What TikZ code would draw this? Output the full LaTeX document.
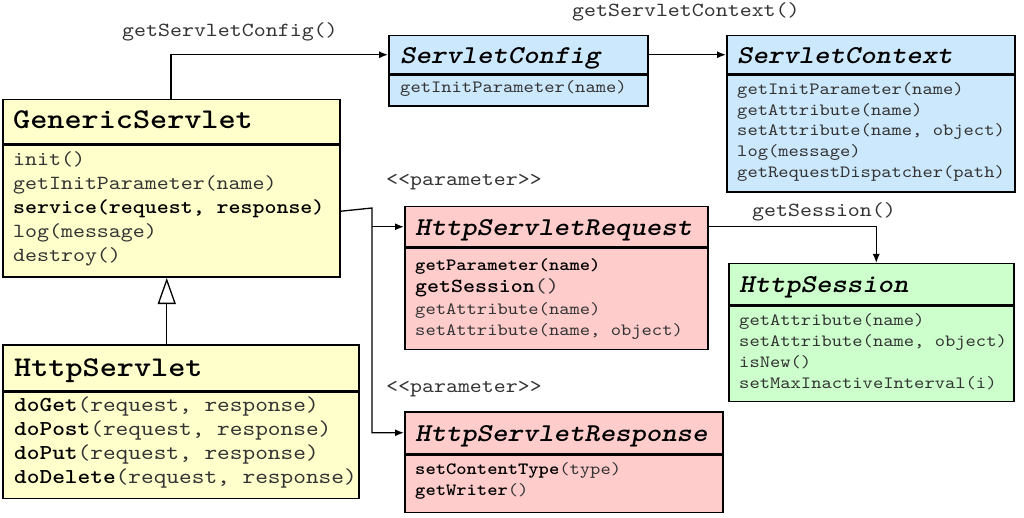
\documentclass[tikz,border=0pt]{standalone}
\usepackage{fontspec}
\setmainfont[FakeStretch=1.14, Extension=.otf,
  UprightFont=lmmono10-regular, BoldFont=lmmonolt10-bold,
  ItalicFont=lmmono10-italic, BoldItalicFont=lmmonolt10-boldoblique]{lmmono10-regular}
\usetikzlibrary{arrows.meta,positioning}
\definecolor{yel}{HTML}{FFFFCC}
\definecolor{blu}{HTML}{CCE8FC}
\definecolor{pnk}{HTML}{FFCCCC}
\definecolor{grn}{HTML}{CCFFCC}
\definecolor{tgray}{HTML}{333333}
\newcommand\fBig{\fontsize{28.6}{32}\selectfont\bfseries}
\newcommand\fTit{\fontsize{25.7}{30}\selectfont\bfseries\itshape}
\newcommand\fMid{\fontsize{20}{24}\selectfont}
\newcommand\fHs{\fontsize{21.2}{24}\selectfont}
\newcommand\fSm{\fontsize{17.2}{21}\selectfont}
\begin{document}
\begin{tikzpicture}[x=1pt,y=-1pt,
  part/.style={draw=black, line width=1.5pt, inner sep=0pt, anchor=north west},
  txt/.style={anchor=base west, inner sep=0pt, text=tgray},
  bld/.style={anchor=base west, inner sep=0pt, text=black},
  arr/.style={line width=1.3pt, -{Latex[length=9pt,width=7pt]}},
  inh/.style={line width=1.3pt, -{Triangle[open,length=26pt,width=18pt]}}]
\useasboundingbox (0,0) rectangle (1024,518);

% ServletConfig
\node[part, fill=blu, minimum width=259pt, minimum height=38pt] (cfg-t) at (388,35) {};
\node[part, fill=blu, minimum width=259pt, minimum height=31pt] (cfg-b) at (cfg-t.south west) {};
\node[bld, font=\fTit] (cfg-n) at (400,64) {ServletConfig};
\node[txt, font=\fSm] (cfg-1) at (400,93) {getInitParameter(name)};

% ServletContext
\node[part, fill=blu, minimum width=288pt, minimum height=38pt] (ctx-t) at (726,35) {};
\node[part, fill=blu, minimum width=288pt, minimum height=117pt] (ctx-b) at (ctx-t.south west) {};
\node[bld, font=\fTit] (ctx-n) at (737,64) {ServletContext};
\node[txt, font=\fSm] (ctx-1) at (737,95) {getInitParameter(name)};
\node[txt, font=\fSm] (ctx-2) at (737,116) {getAttribute(name)};
\node[txt, font=\fSm] (ctx-3) at (737,136) {setAttribute(name, object)};
\node[txt, font=\fSm] (ctx-4) at (737,157) {log(message)};
\node[txt, font=\fSm] (ctx-5) at (737,178) {getRequestDispatcher(path)};

% GenericServlet
\node[part, fill=yel, minimum width=337pt, minimum height=44pt] (gs-t) at (2,99) {};
\node[part, fill=yel, minimum width=337pt, minimum height=132pt] (gs-b) at (gs-t.south west) {};
\node[bld, font=\fBig] (gs-n) at (13,129) {GenericServlet};
\node[txt, font=\fMid] (gs-1) at (13,166) {init()};
\node[txt, font=\fMid] (gs-2) at (13,190) {getInitParameter(name)};
\node[bld, font=\fMid\bfseries] (gs-3) at (13,214) {service(request, response)};
\node[txt, font=\fMid] (gs-4) at (13,238) {log(message)};
\node[txt, font=\fMid] (gs-5) at (13,262) {destroy()};

% HttpServlet
\node[part, fill=yel, minimum width=356pt, minimum height=46pt] (hs-t) at (2,344) {};
\node[part, fill=yel, minimum width=356pt, minimum height=106pt] (hs-b) at (hs-t.south west) {};
\node[bld, font=\fBig] (hs-n) at (14,376) {HttpServlet};
\node[txt, font=\fHs] (hs-1) at (14,411) {\textcolor{black}{\bfseries doGet}(request, response)};
\node[txt, font=\fHs] (hs-2) at (14,435) {\textcolor{black}{\bfseries doPost}(request, response)};
\node[txt, font=\fHs] (hs-3) at (14,459) {\textcolor{black}{\bfseries doPut}(request, response)};
\node[txt, font=\fHs] (hs-4) at (14,483) {\textcolor{black}{\bfseries doDelete}(request, response)};

% HttpServletRequest
\node[part, fill=pnk, minimum width=303pt, minimum height=40pt] (req-t) at (404,206) {};
\node[part, fill=pnk, minimum width=303pt, minimum height=101pt] (req-b) at (req-t.south west) {};
\node[bld, font=\fTit] (req-n) at (415,236) {HttpServletRequest};
\node[bld, font=\fSm\bfseries] (req-1) at (415,271) {getParameter(name)};
\node[txt, font=\fMid] (req-2) at (415,293) {\textcolor{black}{\bfseries getSession}()};
\node[txt, font=\fSm] (req-3) at (415,314) {getAttribute(name)};
\node[txt, font=\fSm] (req-4) at (415,335) {setAttribute(name, object)};

% HttpServletResponse
\node[part, fill=pnk, minimum width=318pt, minimum height=42pt] (resp-t) at (404,411) {};
\node[part, fill=pnk, minimum width=318pt, minimum height=57pt] (resp-b) at (resp-t.south west) {};
\node[bld, font=\fTit] (resp-n) at (415,441) {HttpServletResponse};
\node[txt, font=\fSm] (resp-1) at (415,474) {\textcolor{black}{\bfseries setContentType}(type)};
\node[txt, font=\fSm] (resp-2) at (415,495) {\textcolor{black}{\bfseries getWriter}()};

% HttpSession
\node[part, fill=grn, minimum width=285pt, minimum height=41pt] (ses-t) at (728,263) {};
\node[part, fill=grn, minimum width=285pt, minimum height=95pt] (ses-b) at (ses-t.south west) {};
\node[bld, font=\fTit] (ses-n) at (739,293) {HttpSession};
\node[txt, font=\fSm] (ses-1) at (739,325) {getAttribute(name)};
\node[txt, font=\fSm] (ses-2) at (739,346) {setAttribute(name, object)};
\node[txt, font=\fSm] (ses-3) at (739,367) {isNew()};
\node[txt, font=\fSm] (ses-4) at (739,388) {setMaxInactiveInterval(i)};

% labels
\node[txt, font=\fMid] (l-cfg) at (122,37) {getServletConfig()};
\node[txt, font=\fMid] (l-ctx) at (572,17) {getServletContext()};
\node[txt, font=\fMid] (l-p1) at (386,186) {<{}<parameter>{}>};
\node[txt, font=\fMid] (l-p2) at (386,392) {<{}<parameter>{}>};
\node[txt, font=\fMid] (l-ses) at (752,217) {getSession()};

% connectors
\draw[arr] ([xshift=169pt]gs-t.north west) |- (cfg-t.west);
\draw[arr] (cfg-t.east) -- (ctx-t.west);
\coordinate (split) at (372,208);
\draw[arr] (gs-b.east) -- (split) |- (resp-t.west);
\draw[arr] (split |- req-t.west) -- (req-t.west);
\draw[arr] (req-t.east) -| ([xshift=5pt]ses-t.north);
\draw[inh] ([xshift=-14pt]hs-t.north) -- ([xshift=-14pt]hs-t.north |- gs-b.south);
\end{tikzpicture}
\end{document}
